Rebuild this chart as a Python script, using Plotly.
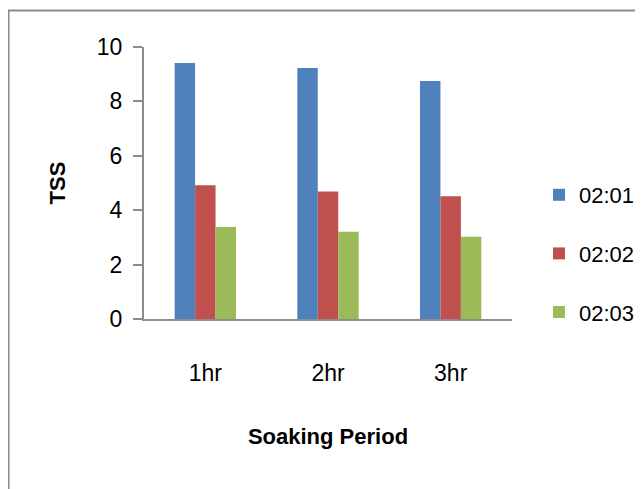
import plotly.graph_objects as go

categories = ["1hr", "2hr", "3hr"]
series_names = ["02:01", "02:02", "02:03"]
values_0201 = [9.41, 9.23, 8.75]
values_0202 = [4.92, 4.69, 4.51]
values_0203 = [3.38, 3.21, 3.02]
colors = ["#4F81BD", "#C0504D", "#9BBB59"]
y_ticks = [0, 2, 4, 6, 8, 10]

FONT = "Liberation Sans, Arial, sans-serif"

# the page body has an 8px margin, so the figure is shifted by -8px
OFF = 8
W, H = 643, 489
L, T = 144 - OFF, 47 - OFF
R = W - (512 - OFF)
B = H - (319 - OFF)
pw, ph = W - L - R, H - T - B

fig = go.Figure()
for name, vals, col in zip(series_names, [values_0201, values_0202, values_0203], colors):
    fig.add_trace(go.Bar(x=categories, y=vals, name=name, legendgroup=name,
                         marker=dict(color=col, line=dict(width=0))))

fig.update_layout(
    width=W, height=H,
    margin=dict(l=L, r=R, t=T, b=B, pad=0, autoexpand=False),
    paper_bgcolor="white", plot_bgcolor="white",
    font=dict(family=FONT, size=23, color="#000000"),
    barmode="group", bargap=0.5, bargroupgap=0,
    showlegend=True,
    legend=dict(x=(539 - OFF - L) / pw, y=1 - (174 - OFF - T) / ph, xanchor="left", yanchor="top",
                traceorder="grouped", tracegroupgap=27,
                font=dict(family=FONT, size=22), itemwidth=30,
                bgcolor="rgba(0,0,0,0)"),
    xaxis=dict(showline=True, linecolor="#8C8C8C", linewidth=2, ticks="",
               showgrid=False, zeroline=False, ticklabelstandoff=32, automargin=False,
               title=dict(text="<b>Soaking Period</b>", standoff=44,
                          font=dict(family=FONT, size=22))),
    yaxis=dict(range=[0, 10], tickvals=y_ticks, showline=True, linecolor="#8C8C8C",
               linewidth=2, ticks="outside", ticklen=9, tickcolor="#8C8C8C", tickwidth=2,
               showgrid=False, zeroline=False, ticklabelstandoff=6, automargin=False,
               title=dict(text="<b>TSS</b>", standoff=25,
                          font=dict(family=FONT, size=22))),
    shapes=[dict(type="rect", xref="paper", yref="paper",
                 x0=(8.5 - OFF - L) / pw, x1=1.6, y0=-1.0, y1=1 + (T - (10.5 - OFF)) / ph,
                 line=dict(color="#8C8C8C", width=2), fillcolor="rgba(0,0,0,0)",
                 layer="below")],
)

fig.write_html("out.html")
